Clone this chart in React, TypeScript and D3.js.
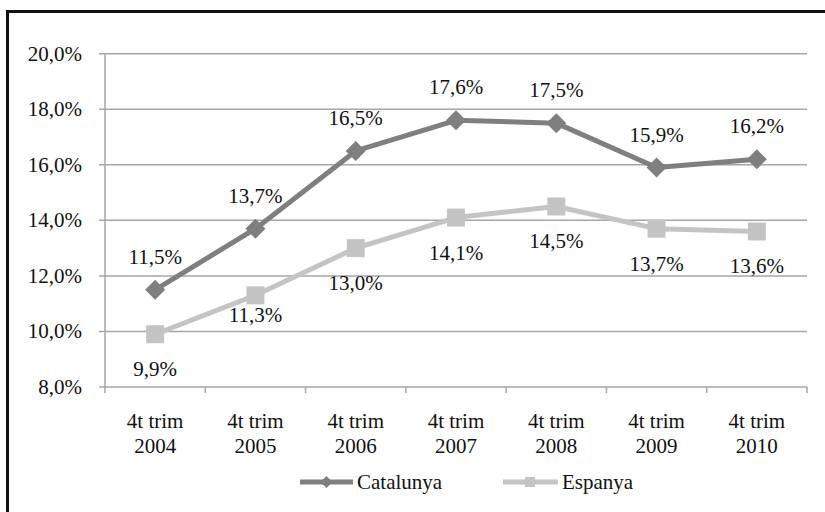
import React from "react";
import * as d3 from "d3";

const categories = ["4t trim 2004", "4t trim 2005", "4t trim 2006", "4t trim 2007", "4t trim 2008", "4t trim 2009", "4t trim 2010"];
const catalunya = [11.5, 13.7, 16.5, 17.6, 17.5, 15.9, 16.2];
const espanya = [9.9, 11.3, 13.0, 14.1, 14.5, 13.7, 13.6];
const yTicks = [8, 10, 12, 14, 16, 18, 20];
const seriesNames = ["Catalunya", "Espanya"];

const W = 825;
const H = 512;
const FONT = '"Liberation Serif", "Times New Roman", Tinos, "DejaVu Serif", serif';
const C_CAT = "#7f7f7f";
const C_ESP = "#c4c4c4";
const GRID = "#a6a6a6";

const fmt = (v: number) => d3.format(".1f")(v).replace(".", ",") + "%";

export default function App() {
  const x = d3.scaleBand<string>().domain(categories).range([105, 807]);
  const y = d3.scaleLinear().domain([8, 20]).range([387, 53.7]);
  const cx = (c: string) => (x(c) as number) + x.bandwidth() / 2;

  const line = d3
    .line<number>()
    .x((_, i) => cx(categories[i]))
    .y((d) => y(d));

  const diamond = (px: number, py: number, r: number) =>
    `M${px},${py - r}L${px + r},${py}L${px},${py + r}L${px - r},${py}Z`;

  const ts = { fontFamily: FONT, fontSize: 21 } as React.CSSProperties;

  return (
    <svg
      width={W}
      height={H}
      style={{ position: "absolute", left: 0, top: 0, background: "#fff", fontFamily: FONT }}
    >
      <rect x={0} y={0} width={W} height={H} fill="#fff" />
      <rect x={7.5} y={11.5} width={W + 20} height={H + 20} fill="none" stroke="#111" strokeWidth={3} />

      {yTicks.map((t) => (
        <g key={t}>
          <line x1={99} x2={807} y1={y(t)} y2={y(t)} stroke={GRID} strokeWidth={1.5} />
          <text x={82} y={y(t) + 7} textAnchor="end" style={ts} fill="#111">
            {fmt(t)}
          </text>
        </g>
      ))}
      <line x1={105} x2={105} y1={y(20)} y2={y(8)} stroke={GRID} strokeWidth={1.5} />
      {categories.map((c, i) => (
        <line key={"t" + i} x1={x(c) as number} x2={x(c) as number} y1={y(8)} y2={y(8) + 6} stroke={GRID} strokeWidth={1.5} />
      ))}
      <line x1={807} x2={807} y1={y(8)} y2={y(8) + 6} stroke={GRID} strokeWidth={1.5} />
      {categories.map((c) => {
        const parts = c.split(" ");
        return (
          <text key={c} x={cx(c)} textAnchor="middle" style={ts} fill="#111">
            <tspan x={cx(c)} y={428}>{parts.slice(0, 2).join(" ")}</tspan>
            <tspan x={cx(c)} y={453}>{parts[2]}</tspan>
          </text>
        );
      })}

      <path d={line(espanya) as string} fill="none" stroke={C_ESP} strokeWidth={5} strokeLinejoin="round" />
      {espanya.map((v, i) => (
        <rect key={"es" + i} x={cx(categories[i]) - 9} y={y(v) - 9} width={18} height={18} fill={C_ESP} />
      ))}
      <path d={line(catalunya) as string} fill="none" stroke={C_CAT} strokeWidth={5} strokeLinejoin="round" />
      {catalunya.map((v, i) => (
        <path key={"ca" + i} d={diamond(cx(categories[i]), y(v), 10)} fill={C_CAT} />
      ))}

      {catalunya.map((v, i) => (
        <text key={"lc" + i} x={cx(categories[i])} y={y(v) - 26} textAnchor="middle" style={ts} fill="#111">
          {fmt(v)}
        </text>
      ))}
      {espanya.map((v, i) => (
        <text key={"le" + i} x={cx(categories[i])} y={y(v) + (i === 1 ? 27 : 42)} textAnchor="middle" style={ts} fill="#111">
          {fmt(v)}
        </text>
      ))}

      <line x1={300} x2={353} y1={482} y2={482} stroke={C_CAT} strokeWidth={5} />
      <path d={diamond(326.5, 482, 6)} fill={C_CAT} />
      <text x={357} y={489} style={ts} fill="#111">{seriesNames[0]}</text>
      <line x1={503} x2={558} y1={482} y2={482} stroke={C_ESP} strokeWidth={5} />
      <rect x={525} y={477} width={10} height={10} fill={C_ESP} />
      <text x={562} y={489} style={ts} fill="#111">{seriesNames[1]}</text>
    </svg>
  );
}
